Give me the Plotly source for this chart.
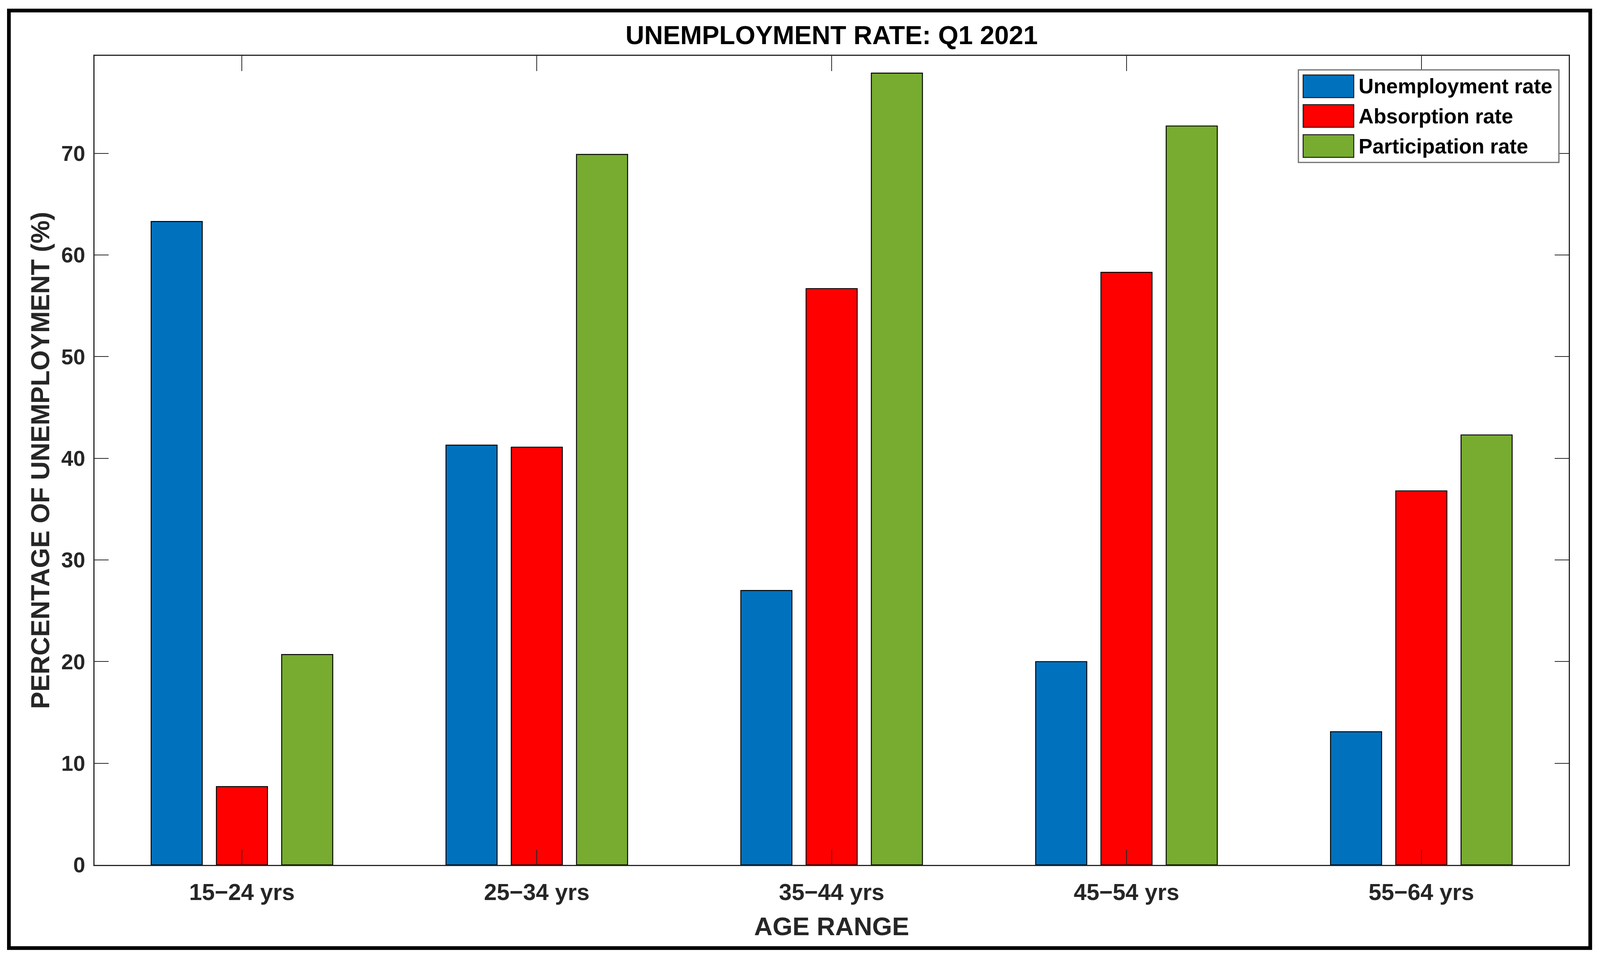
import plotly.graph_objects as go

# ---------------- data ----------------
categories = ["15−24 yrs", "25−34 yrs", "35−44 yrs", "45−54 yrs", "55−64 yrs"]
series_names = ["Unemployment rate", "Absorption rate", "Participation rate"]
unemployment = [63.3, 41.3, 27.0, 20.0, 13.1]
absorption = [7.7, 41.1, 56.7, 58.3, 36.8]
participation = [20.7, 69.9, 77.9, 72.7, 42.3]
y_ticks = [0, 10, 20, 30, 40, 50, 60, 70]

series_values = [unemployment, absorption, participation]
series_colors = ["#0072BD", "#FF0000", "#77AC30"]

# ---------------- geometry ----------------
# Design coordinates follow the 4392x2456 reference.  The captured page
# area is about 4096 x 2456 CSS px, so x is scaled by KX, y by KY, and
# everything is shifted by the 8px body margin.
VW, VH = 4096, 2456
KX = VW / 4392
KY = VH / 2456
KF = 0.95          # font scale (between KX and KY)
OFF = 8
W = VW - 2 * OFF
H = VH - 2 * OFF


def fx(x):
    return x * KX - OFF


def fy(y):
    return y * KY - OFF


L, R, T, B = fx(260), fx(4306), fy(143), fy(2215)
PW, PH = R - L, B - T


def px(x):
    return (fx(x) - L) / PW


def py(y):
    return (B - fy(y)) / PH


FONT = "Liberation Sans, Arial, sans-serif"

fig = go.Figure()
for name, vals, col in zip(series_names, series_values, series_colors):
    fig.add_trace(go.Bar(
        x=categories, y=vals, name=name,
        marker=dict(color=col, line=dict(color="black", width=2.4)),
        showlegend=False,
    ))

shapes = []
annotations = []

# outer frame
shapes.append(dict(type="rect", xref="paper", yref="paper",
                   x0=px(25), x1=px(4365), y0=py(2428), y1=py(27),
                   line=dict(color="black", width=9.5), fillcolor="rgba(0,0,0,0)",
                   layer="above"))

# legend box with large swatches (as in the reference)
shapes.append(dict(type="rect", xref="paper", yref="paper",
                   x0=px(3564), x1=px(4279), y0=py(416), y1=py(179),
                   line=dict(color="#6e6e6e", width=3), fillcolor="white",
                   layer="above"))
row_centers = [221, 297, 374]
for name, col, yc in zip(series_names, series_colors, row_centers):
    shapes.append(dict(type="rect", xref="paper", yref="paper",
                       x0=px(3577), x1=px(3716), y0=py(yc + 29), y1=py(yc - 29),
                       line=dict(color="#1a1a1a", width=2.4), fillcolor=col,
                       layer="above"))
    annotations.append(dict(xref="paper", yref="paper", x=px(3727), y=py(yc),
                            xanchor="left", yanchor="middle", showarrow=False,
                            text=name,
                            font=dict(family=FONT, size=57 * KX, color="black", weight="bold")))

fig.update_layout(
    width=W, height=H, autosize=False,
    margin=dict(l=L, r=W - R, t=T, b=H - B, pad=0),
    paper_bgcolor="white", plot_bgcolor="white",
    barmode="group", bargap=0.336, bargroupgap=0.217,
    title=dict(text="UNEMPLOYMENT RATE: Q1 2021", x=0.5, xref="paper", xanchor="center",
               y=1 - fy(90) / H, yanchor="middle",
               font=dict(family=FONT, size=70 * KF, color="black", weight="bold")),
    shapes=shapes, annotations=annotations,
    showlegend=False,
)

fig.update_xaxes(
    range=[-0.5, 4.5],
    showline=True, linecolor="#262626", linewidth=2.8, mirror="ticks",
    ticks="inside", ticklen=39 * KY, tickwidth=1.9, tickcolor="#262626",
    showgrid=False, zeroline=False,
    tickfont=dict(family=FONT, size=62 * KF, color="#262626", weight="bold"),
    ticklabelstandoff=int(round(16 * KY)),
    title=dict(text="AGE RANGE", standoff=int(round(34 * KY)),
               font=dict(family=FONT, size=69 * KF, color="#262626", weight="bold")),
)
fig.update_yaxes(
    range=[0, 79.6],
    tickvals=y_ticks, ticktext=[str(v) for v in y_ticks],
    showline=True, linecolor="#262626", linewidth=2.8, mirror="ticks",
    ticks="inside", ticklen=39 * KX, tickwidth=1.9, tickcolor="#262626",
    showgrid=False, zeroline=False,
    tickfont=dict(family=FONT, size=58 * KF, color="#262626", weight="bold"),
    ticklabelstandoff=int(round(11 * KX)),
    title=dict(text="PERCENTAGE OF UNEMPLOYMENT (%)", standoff=int(round(10 * KX)),
               font=dict(family=FONT, size=70 * KF, color="#262626", weight="bold")),
)

fig.write_html("out.html")
